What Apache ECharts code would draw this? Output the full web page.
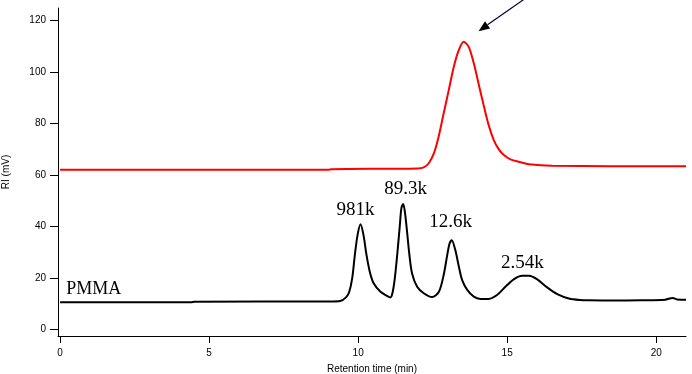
<!DOCTYPE html>
<html>
<head>
<meta charset="utf-8">
<script src="https://cdn.jsdelivr.net/npm/echarts@6/dist/echarts.min.js"></script>
<style>html,body{margin:0;padding:0;background:#fff;}#c{width:692px;height:374px;}</style>
</head>
<body>
<div id="c"></div>
<script>
// Data (retention time in min, RI in mV)
const xTicks = [0, 5, 10, 15, 20];
const yTicks = [0, 20, 40, 60, 80, 100, 120];

const redTrace = [
  [0, 62.0], [2.3, 62.0], [9.0, 62.0], [9.1, 62.2], [12.0, 62.5], [12.2, 62.9],
  [12.37, 64.5], [12.54, 68.3], [12.70, 74.8], [12.87, 83.9], [13.04, 92.9],
  [13.21, 102.0], [13.38, 108.5], [13.54, 111.7], [13.71, 109.7], [13.88, 103.3],
  [14.05, 94.9], [14.21, 87.1], [14.38, 79.3], [14.55, 73.5], [14.72, 69.9],
  [14.89, 67.7], [15.11, 66.0], [15.45, 64.9], [15.73, 64.1], [16.5, 63.5], [21.0, 63.3]
];

const blackTrace = [
  [0, 10.5], [4.4, 10.5], [4.5, 10.7], [9.0, 10.8], [9.4, 11.0], [9.6, 12.5],
  [9.7, 14.5], [9.8, 19.8], [9.89, 28.9], [9.98, 36.6], [10.08, 40.8], [10.18, 36.6],
  [10.28, 28.9], [10.39, 22.4], [10.52, 17.9], [10.75, 14.6], [10.97, 13.0],
  [11.08, 12.4], [11.15, 14.0], [11.23, 19.8], [11.32, 30.1], [11.40, 40.5],
  [11.45, 47.0], [11.51, 48.7], [11.56, 46.3], [11.63, 39.2], [11.72, 28.9],
  [11.81, 21.7], [11.98, 16.5], [12.20, 14.0], [12.48, 12.5], [12.71, 14.6],
  [12.87, 21.1], [12.99, 28.9], [13.07, 33.4], [13.14, 34.6], [13.26, 30.8],
  [13.38, 24.3], [13.49, 19.1], [13.66, 15.3], [13.88, 12.7], [14.10, 11.8],
  [14.38, 11.8], [14.66, 13.3], [14.94, 16.5], [15.22, 19.4], [15.50, 20.8],
  [15.73, 20.8], [16.01, 19.4], [16.34, 16.3], [16.68, 13.7], [17.07, 12.0],
  [17.45, 11.4], [17.74, 11.3], [18.5, 11.2], [19.5, 11.3], [20.3, 11.5],
  [20.55, 12.2], [20.7, 11.6], [21.0, 11.5]
];

const peakLabels = [
  { text: '981k', x: 9.91, y: 46.3 },
  { text: '89.3k', x: 11.59, y: 54.5 },
  { text: '12.6k', x: 13.10, y: 41.7 },
  { text: '2.54k', x: 15.51, y: 25.7 }
];
const sampleLabel = { text: 'PMMA', x: 1.13, y: 15.7 };

const arrowFrom = [15.58, 128.3];
const arrowTo = [14.04, 115.8];

const chart = echarts.init(document.getElementById('c'), null, { renderer: 'canvas' });
const axisFont = { fontFamily: 'Liberation Sans', fontSize: 10, color: '#000' };

chart.setOption({
  animation: false,
  backgroundColor: '#fff',
  grid: { left: 58, right: 6, top: 8, bottom: 38, containLabel: false, outerBoundsMode: 'none' },
  xAxis: {
    type: 'value', min: -0.07, max: 21.0,
    name: 'Retention time (min)', nameLocation: 'middle', nameGap: 28,
    nameTextStyle: axisFont,
    axisLine: { show: true, onZero: false, lineStyle: { color: '#000', width: 1 } },
    axisTick: { show: true, length: 7, lineStyle: { color: '#000' }, customValues: xTicks },
    axisLabel: Object.assign({ margin: 12, customValues: xTicks }, axisFont),
    splitLine: { show: false }
  },
  yAxis: {
    type: 'value', min: -2.6, max: 124.8,
    name: 'RI (mV)', nameLocation: 'middle', nameGap: 47,
    nameTextStyle: axisFont,
    axisLine: { show: true, onZero: false, lineStyle: { color: '#000', width: 1 } },
    axisTick: { show: true, length: 8, lineStyle: { color: '#000' }, customValues: yTicks },
    axisLabel: Object.assign({ margin: 12, customValues: yTicks }, axisFont),
    splitLine: { show: false }
  },
  series: [
    {
      type: 'line', data: redTrace, showSymbol: false, smooth: 0.3,
      lineStyle: { color: '#ff0000', width: 2 }
    },
    {
      type: 'line', data: blackTrace, showSymbol: false, smooth: 0.3,
      lineStyle: { color: '#000', width: 2 }
    },
    {
      type: 'scatter', symbolSize: 0, silent: true, itemStyle: { opacity: 1 },
      data: peakLabels.map(p => ({ value: [p.x, p.y], name: p.text })),
      label: {
        show: true, position: 'inside', formatter: p => p.name,
        fontFamily: 'Liberation Serif', fontSize: 19, color: '#000'
      }
    },
    {
      type: 'scatter', symbolSize: 0, silent: true, itemStyle: { opacity: 1 },
      data: [{ value: [sampleLabel.x, sampleLabel.y], name: sampleLabel.text }],
      label: {
        show: true, position: 'inside', formatter: p => p.name,
        fontFamily: 'Liberation Serif', fontSize: 18, color: '#000'
      }
    }
  ]
});

// Annotation arrow, positioned through the chart's own scales
const p1 = chart.convertToPixel({ gridIndex: 0 }, arrowFrom);
const p2 = chart.convertToPixel({ gridIndex: 0 }, arrowTo);
const ang = Math.atan2(p2[1] - p1[1], p2[0] - p1[0]);
const hl = 11, hw = 4.5;
const bx = p2[0] - hl * Math.cos(ang), by = p2[1] - hl * Math.sin(ang);
const nx = -Math.sin(ang), ny = Math.cos(ang);
chart.setOption({
  graphic: [
    { type: 'line', shape: { x1: p1[0], y1: p1[1], x2: bx, y2: by },
      style: { stroke: '#000033', lineWidth: 1.2 } },
    { type: 'polygon', shape: { points: [[p2[0], p2[1]], [bx + nx * hw, by + ny * hw], [bx - nx * hw, by - ny * hw]] },
      style: { fill: '#000' } }
  ]
});
</script>
</body>
</html>
